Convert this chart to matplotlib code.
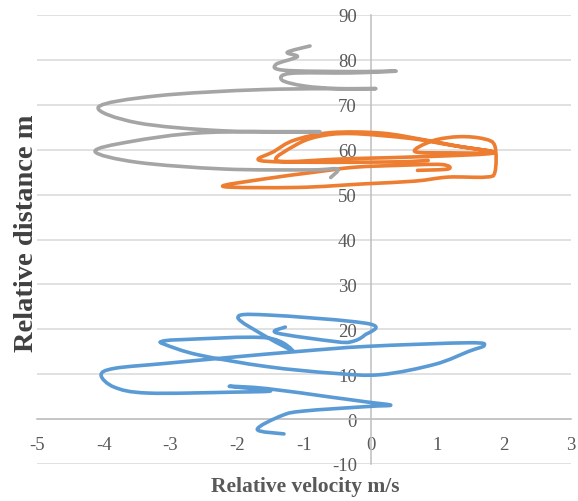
import numpy as np
import matplotlib
matplotlib.use("Agg")
import matplotlib.pyplot as plt
from matplotlib.path import Path
from matplotlib.patches import PathPatch

plt.rcParams["axes.unicode_minus"] = False

# ---- data (relative velocity m/s, relative distance m) ----
blue_v = [-1.30, -1.70, -1.33, -1.00, -0.05, 0.30, -0.05, -0.60, -1.56, -2.12, -1.50, -2.07,
          -3.34, -3.84, -4.04, -3.84, -3.08, -2.07, -1.06, -0.05, 1.47, 1.70, 1.47, 0.96,
          0.15, -0.55, -1.56, -2.58, -3.08, -3.13, -2.83, -1.56, -1.16, -1.56, -1.99, -1.56,
          -0.02, -0.10, -0.30, -0.55, -1.41, -1.28]
blue_d = [-3.3, -2.3, 0.8, 1.8, 2.8, 3.1, 3.8, 4.9, 6.8, 7.3, 6.3, 6.0,
          5.8, 7.1, 9.8, 11.3, 12.4, 13.8, 15.1, 16.2, 17.0, 16.4, 15.1, 12.2,
          9.9, 10.2, 11.7, 14.3, 16.6, 17.3, 17.7, 18.1, 15.1, 18.3, 22.6, 23.2,
          21.2, 18.6, 17.2, 17.3, 19.2, 20.5]

orange_v = [0.86, 0.40, -0.80, -1.66, -1.45, -1.15, -0.60, 0.16, 0.80, 1.30, 1.85,
            0.90, -0.34, -1.39, -1.14, -0.80, -0.30, 0.60, 1.20, 1.85, 1.20, 0.66,
            0.93, 1.33, 1.70, 1.86, 1.86, 1.72, 1.16, 0.66, -0.09, -1.09, -2.21,
            -1.59, -0.84, -0.24, 0.41, 1.06, 1.16, 0.70]
orange_d = [57.6, 57.3, 57.2, 57.6, 59.6, 62.1, 63.8, 63.7, 62.2, 60.8, 59.3,
            58.5, 58.0, 57.5, 60.9, 62.9, 63.6, 62.5, 61.0, 59.4, 59.3, 59.6,
            62.0, 62.9, 62.4, 60.8, 55.0, 53.9, 53.9, 53.0, 52.4, 51.6, 51.8,
            53.5, 55.0, 56.1, 56.5, 56.7, 55.7, 55.4]

gray_v = [-0.91, -1.25, -1.10, -1.42, -1.30, -0.30, 0.38, -0.30, -1.20, -1.33, -1.00,
          -0.50, 0.03, -1.60, -3.20, -4.08, -3.50, -2.20, -0.76, -2.50, -3.60, -4.13,
          -3.50, -2.20, -0.90, -0.50, -0.60]
gray_d = [83.1, 81.7, 80.7, 79.0, 77.7, 77.4, 77.5, 77.1, 77.0, 75.5, 74.2,
          73.6, 73.6, 73.4, 72.0, 69.5, 66.0, 64.2, 64.0, 63.8, 61.8, 59.6,
          57.2, 55.7, 55.5, 55.7, 53.8]

x_ticks = [-5, -4, -3, -2, -1, 0, 1, 2, 3]
y_ticks = [-10, 0, 10, 20, 30, 40, 50, 60, 70, 80, 90]

BLUE, ORANGE, GRAY = "#5B9BD5", "#ED7D31", "#A5A5A5"
TXT = "#595959"


def smooth_path(xs, ys):
    """Excel-style smoothed line as cubic Bezier segments through the points."""
    p = np.column_stack([xs, ys]).astype(float)
    n = len(p)
    verts = [p[0]]
    codes = [Path.MOVETO]
    for i in range(n - 1):
        p0 = p[i - 1] if i > 0 else p[i]
        p1, p2 = p[i], p[i + 1]
        p3 = p[i + 2] if i + 2 < n else p[i + 1]
        verts += [p1 + (p2 - p0) / 6.0, p2 - (p3 - p1) / 6.0, p2]
        codes += [Path.CURVE4] * 3
    return Path(verts, codes)


fig = plt.figure(figsize=(5.78, 5.02), dpi=100)
ax = fig.add_axes([37 / 578, 37 / 502, 534 / 578, 449 / 502])
ax.set_xlim(-5, 3)
ax.set_ylim(-10, 90)

serif = ["Liberation Serif", "DejaVu Serif"]

ax.set_yticks(y_ticks)
ax.set_xticks(x_ticks)
ax.grid(axis="y", color="#D9D9D9", linewidth=1.1, zorder=0)
ax.set_axisbelow(True)

for s in ["top", "right"]:
    ax.spines[s].set_visible(False)
ax.spines["left"].set_position(("data", 0))
ax.spines["bottom"].set_position(("data", 0))
ax.spines["left"].set_color("#BFBFBF")
ax.spines["bottom"].set_color("#BFBFBF")
ax.spines["left"].set_linewidth(1.1)
ax.spines["bottom"].set_linewidth(1.1)

ax.tick_params(axis="both", length=0, labelcolor=TXT, labelsize=13.5)
ax.tick_params(axis="y", pad=10)
ax.tick_params(axis="x", pad=12)
for lab in ax.get_xticklabels() + ax.get_yticklabels():
    lab.set_family(serif)

for xs, ys, c in [(blue_v, blue_d, BLUE), (orange_v, orange_d, ORANGE), (gray_v, gray_d, GRAY)]:
    ax.add_patch(PathPatch(smooth_path(xs, ys), fill=False, edgecolor=c,
                           linewidth=2.6, capstyle="round", joinstyle="round", zorder=3))

ax.set_xlabel("Relative velocity m/s", family=serif, fontsize=15.5, fontweight="bold",
              color=TXT, va="center")
ax.xaxis.set_label_coords((305 - 37) / 534, (465 - 487) / 449)
ax.set_ylabel("Relative distance m", family=serif, fontsize=20.5, fontweight="bold",
              color="#404040", va="center")
ax.yaxis.set_label_coords((27 - 37) / 534, (465 - 233) / 449)

fig.savefig("out.png", dpi=100)
